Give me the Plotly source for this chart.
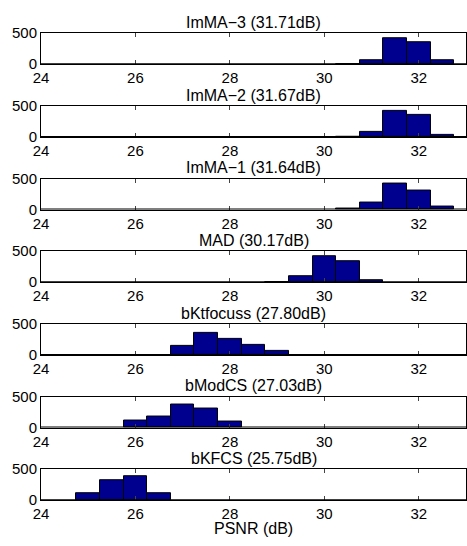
import plotly.graph_objects as go
from plotly.subplots import make_subplots

titles = ["ImMA\u22123 (31.71dB)", "ImMA\u22122 (31.67dB)", "ImMA\u22121 (31.64dB)", "MAD (30.17dB)",
          "bKtfocuss (27.80dB)", "bModCS (27.03dB)", "bKFCS (25.75dB)"]

imma3_x = [30.5, 31.0, 31.5, 32.0, 32.5]
imma3_y = [3, 65, 421, 347, 68]
imma2_x = [30.5, 31.0, 31.5, 32.0, 32.5]
imma2_y = [4, 74, 421, 358, 26]
imma1_x = [30.5, 31.0, 31.5, 32.0, 32.5]
imma1_y = [10, 121, 421, 310, 53]
mad_x = [29.0, 29.5, 30.0, 30.5, 31.0]
mad_y = [2, 89, 416, 331, 26]
bkt_x = [27.0, 27.5, 28.0, 28.5, 29.0]
bkt_y = [153, 363, 252, 163, 68]
bmod_x = [26.0, 26.5, 27.0, 27.5, 28.0]
bmod_y = [105, 184, 368, 310, 89]
bkfcs_x = [25.0, 25.5, 26.0, 26.5]
bkfcs_y = [116, 321, 395, 110]

series = [(imma3_x, imma3_y), (imma2_x, imma2_y), (imma1_x, imma1_y), (mad_x, mad_y),
          (bkt_x, bkt_y), (bmod_x, bmod_y), (bkfcs_x, bkfcs_y)]

x_ticks = [24, 26, 28, 30, 32]
y_ticks = [0, 500]
bin_width = 0.5

W, H = 467, 546
FONT = "Liberation Sans, Arial, sans-serif"
FS_TICK = 15
FS_TITLE = 16

fig = make_subplots(rows=7, cols=1)
for i, (xs, ys) in enumerate(series):
    r = i + 1
    fig.add_trace(go.Bar(x=xs, y=ys, width=bin_width,
                         marker=dict(color="#00008F", line=dict(color="black", width=1)),
                         showlegend=False, hoverinfo="skip"), row=r, col=1)
    top_px = 25 + 75 * i
    bot_px = 57 + 75 * i
    dom = [(H - bot_px) / H, (H - top_px) / H]
    ax_suffix = "" if r == 1 else str(r)
    fig.layout["yaxis" + ax_suffix].update(
        domain=dom, range=[0, 500], tickvals=y_ticks, ticks="inside", ticklen=4,
        showline=True, linecolor="black", linewidth=1, mirror="ticks",
        showgrid=False, zeroline=False, tickfont=dict(size=FS_TICK, color="black", family=FONT))
    fig.layout["xaxis" + ax_suffix].update(
        domain=[0, 1], range=[24, 33], tickvals=x_ticks, ticks="inside", ticklen=4,
        showline=True, linecolor="black", linewidth=1, mirror="ticks",
        showgrid=False, zeroline=False, tickfont=dict(size=FS_TICK, color="black", family=FONT))
    fig.add_shape(type="line", x0=24, x1=33, y0=0, y1=0, xref="x" + ax_suffix, yref="y" + ax_suffix,
                  line=dict(color="black", width=2))
    fig.add_annotation(text=titles[i], xref="paper", yref="paper", x=0.5,
                       y=(H - (top_px - 11)) / H, yanchor="middle", xanchor="center",
                       showarrow=False, font=dict(size=FS_TITLE, color="black", family=FONT))

fig.add_annotation(text="PSNR (dB)", xref="paper", yref="paper", x=0.5, y=(H - 536) / H,
                   yanchor="middle", xanchor="center", showarrow=False,
                   font=dict(size=FS_TITLE, color="black", family=FONT))

fig.update_layout(width=W, height=H, margin=dict(l=41, r=1, t=0, b=0),
                  plot_bgcolor="white", paper_bgcolor="white", bargap=0)
fig.write_html("out.html", config={"displayModeBar": False},
               post_script="document.body.style.margin='0';document.body.style.overflow='hidden';")
